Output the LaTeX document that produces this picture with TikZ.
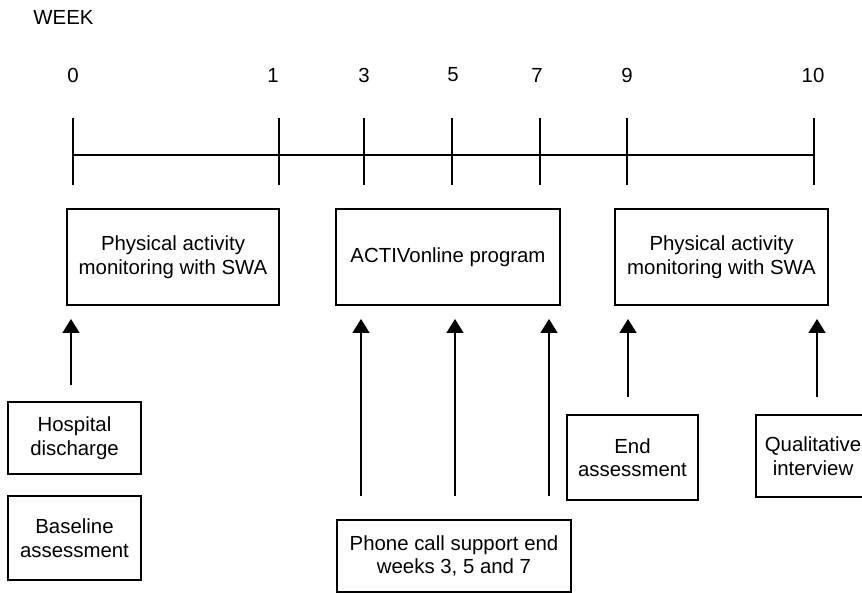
\documentclass[tikz,border=0pt]{standalone}
\usepackage{fontspec}
\setmainfont{Liberation Sans}
\usetikzlibrary{arrows.meta}
\begin{document}
\begin{tikzpicture}[x=1pt,y=-1pt,
  txt/.style={font=\fontsize{20.4}{23.5}\selectfont, inner sep=0pt, align=center},
  boxnode/.style={draw, line width=1.6pt, txt, minimum width=#1},
  tickline/.style={line width=1.6pt},
  axisline/.style={line width=1.4pt},
  arr/.style={line width=1.6pt, -{Triangle[length=14pt,width=17pt]}}]
\useasboundingbox (0,0) rectangle (862,593);
% header
\node[txt] (week) at (63.5,17) {WEEK};
% week labels
\node[txt] (l0) at (73,75) {0};
\node[txt] (l1) at (273,75) {1};
\node[txt] (l3) at (364,75) {3};
\node[txt] (l5) at (453,75) {5};
\node[txt] (l7) at (537,75) {7};
\node[txt] (l9) at (627,75) {9};
\node[txt] (l10) at (813,75) {10};
% axis
\draw[axisline] (73,155) -- (814,155);
\foreach \x in {73,279,364,452,540,627,814}
  \draw[tickline] (\x,118) -- (\x,185);
% top boxes
\node[boxnode=212pt, minimum height=96pt] (pa1) at (173,257) {Physical activity\\monitoring with SWA};
\node[boxnode=224pt, minimum height=96pt] (act) at (448,257) {ACTIVonline program};
\node[boxnode=213pt, minimum height=96pt] (pa2) at (721.5,257) {Physical activity\\monitoring with SWA};
% bottom boxes
\node[boxnode=133pt, minimum height=72pt] (hosp) at (74.5,438) {Hospital\\discharge};
\node[boxnode=133pt, minimum height=84pt] (base) at (74.5,538) {Baseline\\assessment};
\node[boxnode=234pt, minimum height=72pt] (phone) at (454,556) {Phone call support end\\weeks 3, 5 and 7};
\node[boxnode=131pt, minimum height=85pt] (endb) at (632.5,457.5) {End\\assessment};
\node[boxnode=114pt, minimum height=82pt] (qual) at (813,456) {Qualitative\\interview};
% arrows
\coordinate (a1s) at (71,385);  \coordinate (a1e) at (71,319);
\coordinate (a2s) at (361,496); \coordinate (a2e) at (361,319);
\coordinate (a3s) at (455,496); \coordinate (a3e) at (455,319);
\coordinate (a4s) at (549,496); \coordinate (a4e) at (549,319);
\coordinate (a5s) at (628,397); \coordinate (a5e) at (628,319);
\coordinate (a6s) at (817,397); \coordinate (a6e) at (817,319);
\draw[arr] (a1s) -- (a1e);
\draw[arr] (a2s) -- (a2e);
\draw[arr] (a3s) -- (a3e);
\draw[arr] (a4s) -- (a4e);
\draw[arr] (a5s) -- (a5e);
\draw[arr] (a6s) -- (a6e);
\end{tikzpicture}
\end{document}
